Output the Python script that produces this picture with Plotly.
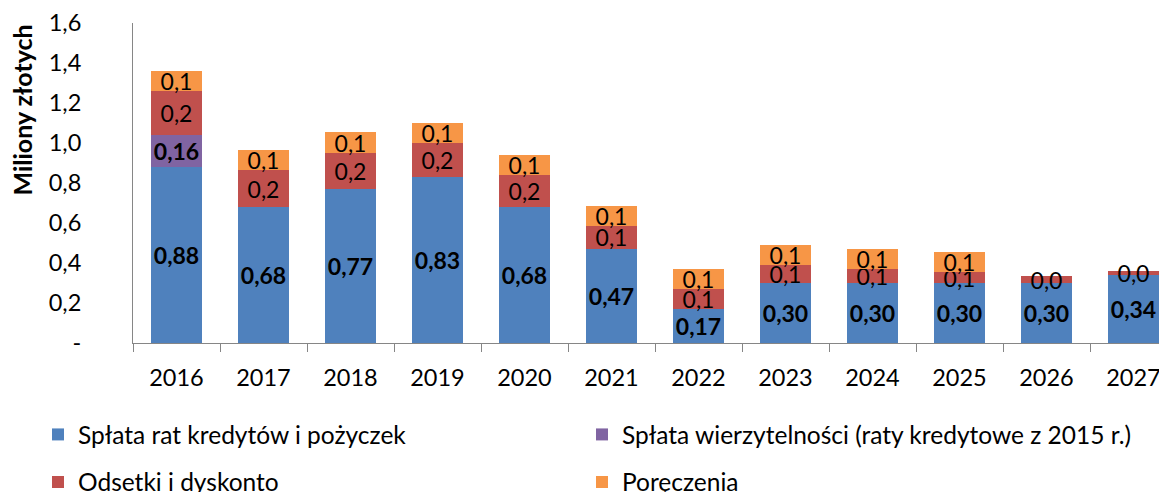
import plotly.graph_objects as go

# data (millions PLN)
years = ["2016", "2017", "2018", "2019", "2020", "2021",
         "2022", "2023", "2024", "2025", "2026", "2027"]
splata_rat = [0.88, 0.68, 0.77, 0.83, 0.68, 0.47, 0.17, 0.30, 0.30, 0.30, 0.30, 0.34]
splata_wierz = [0.16, 0, 0, 0, 0, 0, 0, 0, 0, 0, 0, 0]
odsetki = [0.218, 0.184, 0.18, 0.172, 0.16, 0.117, 0.10, 0.09, 0.07, 0.055, 0.035, 0.02]
poreczenia = [0.104, 0.10, 0.104, 0.10, 0.10, 0.10, 0.10, 0.10, 0.10, 0.10, 0, 0]

y_ticks = [0, 0.2, 0.4, 0.6, 0.8, 1.0, 1.2, 1.4, 1.6]
y_ticktext = ["-", "0,2", "0,4", "0,6", "0,8", "1,0", "1,2", "1,4", "1,6"]

FONT = "Lato"
BLUE = "#4F81BD"
PURPLE = "#8064A2"
RED = "#C0504D"
ORANGE = "#F79646"
AXIS = "#868686"

# page body has an 8px margin, the figure starts at (8, 8) of the window
W, H = 1159, 484


def fmt(v, digits, bold=False):
    if v == 0:
        return ""
    s = f"{v:.{digits}f}".replace(".", ",")
    return f"<b>{s}</b>" if bold else s


def bar(name, values, color, text, legend):
    return go.Bar(
        x=years, y=values, name=name, marker_color=color,
        marker_line_width=0,
        text=text, textposition="inside", insidetextanchor="middle",
        textangle=0, constraintext="none", cliponaxis=False,
        textfont=dict(family=FONT, size=23, color="black"),
        legend=legend,
    )


fig = go.Figure()
fig.add_trace(bar("Spłata rat kredytów i pożyczek", splata_rat, BLUE,
                  [fmt(v, 2, True) for v in splata_rat], "legend2"))
fig.add_trace(bar("Spłata wierzytelności (raty kredytowe z 2015 r.)", splata_wierz, PURPLE,
                  [fmt(v, 2, True) for v in splata_wierz], "legend3"))
fig.add_trace(bar("Odsetki i dyskonto", odsetki, RED,
                  [fmt(v, 1) for v in odsetki], "legend4"))
fig.add_trace(bar("Poręczenia", poreczenia, ORANGE,
                  [fmt(v, 1) for v in poreczenia], "legend5"))

# "-" labels of the zero-valued purple segments, sitting on top of the blue bars
for yr, base, v in zip(years, splata_rat, splata_wierz):
    fig.add_annotation(x=yr, y=base, text="<b>-</b>", showarrow=False,
                       yshift=-2, font=dict(family=FONT, size=20, color="black"))

# y-axis title placed like the original (above the middle of the axis)
fig.add_annotation(xref="paper", yref="paper", x=-0.1069, y=0.728,
                   xanchor="center", yanchor="middle",
                   text="<b>Miliony złotych</b>", textangle=-90, showarrow=False,
                   font=dict(family=FONT, size=25, color="black"))

legend_style = dict(
    orientation="h", xanchor="left", yanchor="middle",
    xref="container", yref="container", bgcolor="rgba(0,0,0,0)",
    font=dict(family=FONT, size=24.5, color="black"),
)
col1, col2 = 30 / W, 574 / W
row1, row2 = (H - 426.5) / H, 10 / H

fig.update_layout(
    barmode="stack",
    bargap=0.425,
    width=W, height=H,
    margin=dict(l=125, r=0, t=15, b=149),
    paper_bgcolor="white", plot_bgcolor="white",
    separators=", ",
    font=dict(family=FONT, size=23, color="black"),
    showlegend=True,
    legend2=dict(legend_style, x=col1, y=row1),
    legend3=dict(legend_style, x=col2, y=row1),
    legend4=dict(legend_style, x=col1, y=row2),
    legend5=dict(legend_style, x=col2, y=row2),
)
fig.update_xaxes(
    type="category", range=[-0.5, 11.385], automargin=False,
    showline=True, linecolor=AXIS, linewidth=1,
    ticks="outside", tickson="boundaries", ticklen=8, tickcolor=AXIS,
    showgrid=False, ticklabelstandoff=14,
    tickfont=dict(family=FONT, size=23.5, color="black"),
)
fig.update_yaxes(
    range=[0, 1.6], tickvals=y_ticks, ticktext=y_ticktext, automargin=False,
    showline=True, linecolor=AXIS, linewidth=1,
    ticks="", showgrid=False, zeroline=False, ticklabelstandoff=46,
    tickfont=dict(family=FONT, size=23.5, color="black"),
)

fig.write_html("out.html")
